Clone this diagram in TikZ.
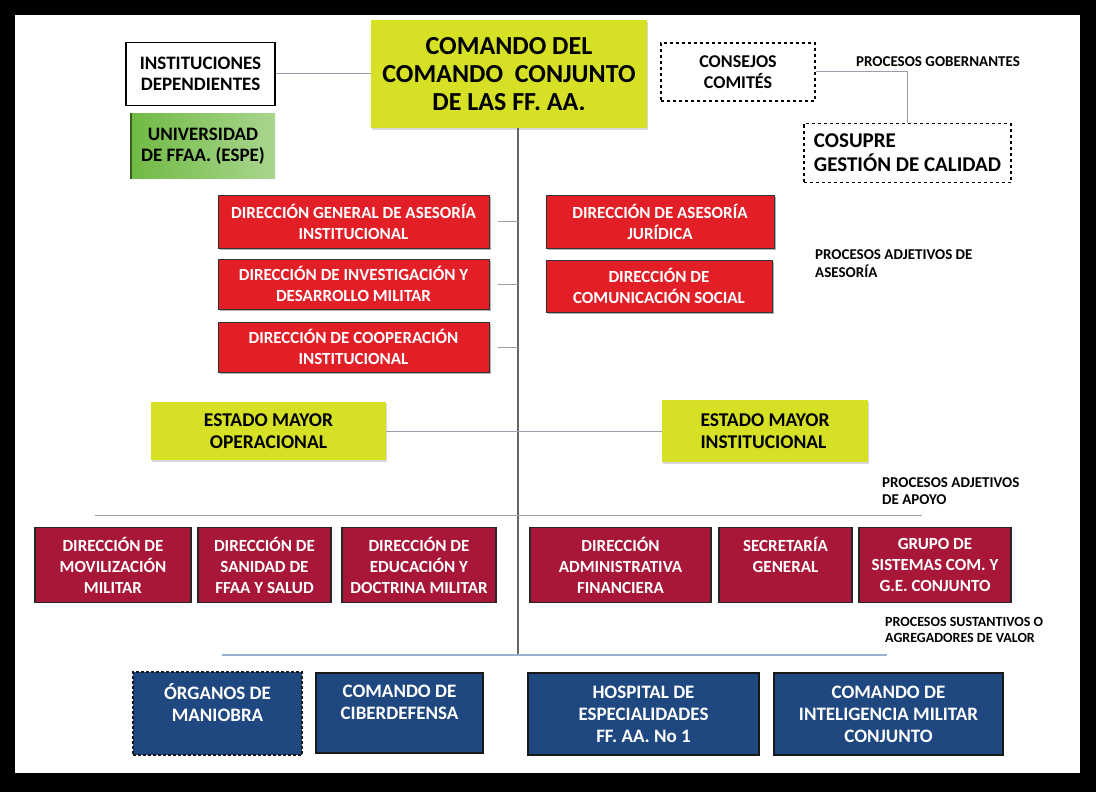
\documentclass[tikz,border=0pt]{standalone}
\usepackage{fontspec}
\setmainfont{Carlito}
\usetikzlibrary{shadows}
\definecolor{amar}{RGB}{214,224,36}
\definecolor{rojo}{RGB}{226,30,38}
\definecolor{grana}{RGB}{168,22,56}
\definecolor{azul}{RGB}{32,72,128}
\definecolor{verde}{RGB}{112,186,68}
\definecolor{linea}{RGB}{150,160,172}
\definecolor{lazul}{RGB}{150,178,210}

\begin{document}
\begin{tikzpicture}[x=1pt,y=-1pt,
  box/.style={rectangle,inner sep=0pt,align=center},
  ybox/.style={box,fill=amar,drop shadow={opacity=0.3,shadow xshift=1pt,shadow yshift=-2pt},font={\bfseries\fontsize{19.5}{22}\selectfont}},
  rbox/.style={box,fill=rojo,draw=black!80,line width=1pt,text=white,drop shadow={opacity=0.6,shadow xshift=1.5pt,shadow yshift=-2pt},font={\bfseries\fontsize{17}{21}\selectfont}},
  cbox/.style={box,fill=grana,draw=black!85,line width=1.2pt,text=white,font={\bfseries\fontsize{17}{21}\selectfont}},
  bbox/.style={box,fill=azul,draw=black!90,line width=1.8pt,text=white,font={\bfseries\fontsize{19}{22}\selectfont}},
  pnote/.style={anchor=west,align=left,inner sep=0pt},
  wire/.style={linea,line width=1pt},
  spine/.style={black!60,line width=1.2pt}]
\useasboundingbox (0,0) rectangle (1096,792);
\fill[black] (0,0) rectangle (1096,792);
\fill[white] (15,15) rectangle (1080,773);

\node[ybox,minimum width=276,minimum height=107,font={\bfseries\fontsize{26}{28}\selectfont}] (cmd) at (509,74) {COMANDO DEL\\COMANDO\ \ CONJUNTO\\DE LAS FF. AA.};
\node[box,draw=black,line width=1.5pt,fill=white,minimum width=149,minimum height=63,font={\bfseries\fontsize{19}{21}\selectfont}] (inst) at (200.5,74) {INSTITUCIONES\\DEPENDIENTES};
\node[box,left color=verde,right color=verde!60!white,minimum width=144,minimum height=65,font={\bfseries\fontsize{19}{21}\selectfont}] (univ) at (203,146) {UNIVERSIDAD\\DE FFAA. (ESPE)};
\draw[verde!50!black,line width=1.5pt] (univ.north west) -- (univ.south west);
\node[box,draw=black,dashed,line width=1.2pt,minimum width=154,minimum height=58,font={\bfseries\fontsize{18}{21}\selectfont}] (cons) at (738,72) {CONSEJOS\\COMITÉS};
\node[box,align=left,draw=black,dashed,line width=1.2pt,minimum width=207,minimum height=59,font={\bfseries\fontsize{21}{24}\selectfont}] (cosu) at (907.5,153) {COSUPRE\\GESTIÓN DE CALIDAD};
\node[pnote,font={\bfseries\fontsize{15}{17}\selectfont}] (gob) at (856,62) {PROCESOS GOBERNANTES};

\node[rbox,minimum width=271,minimum height=53] (dga) at (353.5,221.5) {DIRECCIÓN GENERAL DE ASESORÍA\\INSTITUCIONAL};
\node[rbox,minimum width=271,minimum height=50] (dinv) at (353.5,284) {DIRECCIÓN DE INVESTIGACIÓN Y\\DESARROLLO MILITAR};
\node[rbox,minimum width=271,minimum height=50] (dcoop) at (353.5,347) {DIRECCIÓN DE COOPERACIÓN\\INSTITUCIONAL};
\node[rbox,minimum width=228,minimum height=53] (djur) at (660,221.5) {DIRECCIÓN DE ASESORÍA\\JURÍDICA};
\node[rbox,minimum width=226,minimum height=52] (dcom) at (659,286) {DIRECCIÓN DE\\COMUNICACIÓN SOCIAL};
\node[pnote,font={\bfseries\fontsize{15}{18}\selectfont}] (ases) at (815,264) {PROCESOS ADJETIVOS DE\\ASESORÍA};

\node[ybox,minimum width=235,minimum height=58] (emo) at (268.5,431) {ESTADO MAYOR\\OPERACIONAL};
\node[ybox,align=left,minimum width=206,minimum height=62] (emi) at (765,431) {ESTADO MAYOR\\INSTITUCIONAL};
\node[pnote,font={\bfseries\fontsize{15}{17}\selectfont}] (apoy) at (882,491) {PROCESOS ADJETIVOS\\DE APOYO};

\node[cbox,minimum width=156,minimum height=75] (dmov) at (113,565) {DIRECCIÓN DE\\MOVILIZACIÓN\\MILITAR};
\node[cbox,minimum width=133,minimum height=75] (dsan) at (264.5,565) {DIRECCIÓN DE\\SANIDAD DE\\FFAA Y SALUD};
\node[cbox,minimum width=154,minimum height=75] (dedu) at (419,565) {DIRECCIÓN DE\\EDUCACIÓN Y\\DOCTRINA MILITAR};
\node[cbox,minimum width=181,minimum height=75] (dadm) at (620.5,565) {DIRECCIÓN\\ADMINISTRATIVA\\FINANCIERA};
\node[cbox,minimum width=133,minimum height=75] (dsec) at (785.5,565) {SECRETARÍA\\GENERAL\\\mbox{}};
\node[cbox,minimum width=152,minimum height=75] (dgrp) at (935,565) {GRUPO DE\\SISTEMAS COM. Y\\G.E. CONJUNTO};
\node[pnote,font={\bfseries\fontsize{14}{16}\selectfont}] (sust) at (885,630) {PROCESOS SUSTANTIVOS O\\AGREGADORES DE VALOR};

\node[bbox,densely dashed,minimum width=169,minimum height=83] (org) at (217.5,713.5) {ÓRGANOS DE\\MANIOBRA\\\mbox{}};
\node[bbox,minimum width=167,minimum height=80] (cib) at (399.5,713) {COMANDO DE\\CIBERDEFENSA\\\mbox{}};
\node[bbox,minimum width=231,minimum height=82] (hos) at (643.5,714) {HOSPITAL DE\\ESPECIALIDADES\\FF. AA. No 1};
\node[bbox,minimum width=229,minimum height=82] (intl) at (888.5,714) {COMANDO DE\\INTELIGENCIA MILITAR\\CONJUNTO};

\coordinate (s0) at (518,128);
\coordinate (s1) at (518,655);
\coordinate (bl) at (95,515);
\coordinate (br) at (922,515);
\coordinate (ql) at (222,655);
\coordinate (qr) at (887,655);
\draw[spine] (s0) -- (s1);
\draw[wire] (inst.east) -- (cmd.west);
\draw[wire] (cons.east) -| (cosu.north);
\draw[wire,shorten <=8pt] (dga.east) -- (dga.east -| s0);
\draw[wire,shorten <=8pt] (dinv.east) -- (dinv.east -| s0);
\draw[wire,shorten <=8pt] (dcoop.east) -- (dcoop.east -| s0);
\draw[wire] (emo.east) -- (emi.west);
\draw[wire] (bl) -- (br);
\draw[lazul,line width=2pt] (ql) -- (qr);
\end{tikzpicture}
\end{document}
